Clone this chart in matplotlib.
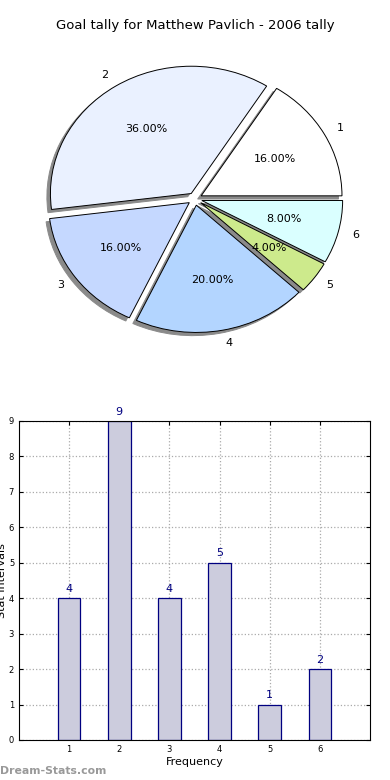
import matplotlib
matplotlib.use('Agg')
import matplotlib.pyplot as plt

# data
categories = ['1', '2', '3', '4', '5', '6']
goals = [4, 9, 4, 5, 1, 2]
pie_colors = ['#ffffff', '#eaf1ff', '#c5d8ff', '#b3d5ff', '#cdea8c', '#daffff']
explode = [0.05] * 6

fig = plt.figure(figsize=(3.9, 7.8), dpi=100)

# pie chart
ax1 = fig.add_axes([0.0487, 0.541, 0.9026, 0.408])
wedges, texts, autotexts = ax1.pie(goals, labels=categories, colors=pie_colors,
                                   explode=explode, autopct='%.2f%%',
                                   shadow={'ox': -0.018, 'oy': -0.018,
                                           'facecolor': '#8a8a8a', 'edgecolor': '#8a8a8a',
                                           'alpha': 1},
                                   labeldistance=1.1, pctdistance=0.6,
                                   wedgeprops={'edgecolor': 'black', 'linewidth': 0.7},
                                   textprops={'fontsize': 8})
ax1.set_aspect('auto')
ax1.set_xlim(-1.25, 1.25)
ax1.set_ylim(-1.25, 1.25)
ax1.set_title('Goal tally for Matthew Pavlich - 2006 tally', fontsize=9.5, pad=8)

# bar chart
ax2 = fig.add_axes([0.0487, 0.0513, 0.9, 0.409])
x = list(range(1, len(goals) + 1))
ax2.bar(x, goals, width=0.45, color='#ccccdd', edgecolor='#000080', linewidth=0.9)
for xi, g in zip(x, goals):
    ax2.text(xi, g + 0.12, str(g), ha='center', va='bottom', color='#000080', fontsize=8)
ax2.set_xlim(0, 7)
ax2.set_ylim(0, 9)
ax2.set_xticks(x)
ax2.set_yticks(range(0, 10))
ax2.tick_params(labelsize=6, direction='in', top=True, right=True, length=3)
ax2.grid(True, linestyle=':', color='#aaaaaa', linewidth=0.9)
ax2.set_axisbelow(True)
ax2.set_xlabel('Frequency', fontsize=8, labelpad=2)
ax2.set_ylabel('Stat Intervals', fontsize=8, labelpad=1)

fig.text(0.0, 0.008, 'Dream-Stats.com', fontsize=7.8, color='#999999', fontweight='bold')

plt.savefig('out.png', dpi=100, facecolor='white')
